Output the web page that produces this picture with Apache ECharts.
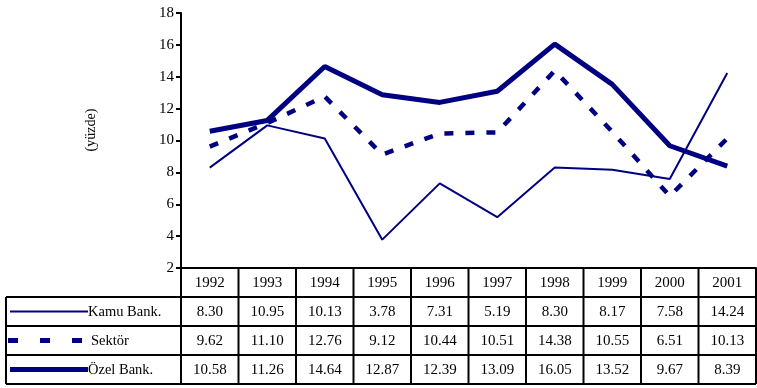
<!DOCTYPE html>
<html>
<head>
<meta charset="utf-8">
<script src="https://cdn.jsdelivr.net/npm/echarts@6/dist/echarts.min.js"></script>
<style>
  html, body { margin: 0; padding: 0; background: #fff; }
  #chart { width: 757px; height: 388px; }
</style>
</head>
<body>
<div id="chart"></div>
<script>
// Years shown along the category axis and in the table header
const years = ['1992', '1993', '1994', '1995', '1996', '1997', '1998', '1999', '2000', '2001'];

// Series values (yüzde)
const kamuBank = [8.30, 10.95, 10.13, 3.78, 7.31, 5.19, 8.30, 8.17, 7.58, 14.24];
const sektor   = [9.62, 11.10, 12.76, 9.12, 10.44, 10.51, 14.38, 10.55, 6.51, 10.13];
const ozelBank = [10.58, 11.26, 14.64, 12.87, 12.39, 13.09, 16.05, 13.52, 9.67, 8.39];

const seriesNames = ['Kamu Bank.', 'Sektör', 'Özel Bank.'];
const seriesData = [kamuBank, sektor, ozelBank];

// Value-axis tick labels
const yTicks = [2, 4, 6, 8, 10, 12, 14, 16, 18];

const NAVY = '#000080';
const FONT = '"Liberation Serif", "Times New Roman", serif';

const chart = echarts.init(document.getElementById('chart'), null, { renderer: 'canvas' });

chart.setOption({
  animation: false,
  backgroundColor: '#ffffff',
  grid: { left: 181, right: 1, top: 13, bottom: 120 },
  xAxis: {
    type: 'category',
    data: years,
    boundaryGap: true,
    axisLine: { show: true, lineStyle: { color: '#000', width: 2 } },
    axisTick: { show: false },
    axisLabel: { show: false },
    splitLine: { show: false }
  },
  yAxis: {
    type: 'value',
    min: yTicks[0],
    max: yTicks[yTicks.length - 1],
    interval: 2,
    axisLine: { show: true, lineStyle: { color: '#000', width: 2 } },
    axisTick: { show: true, inside: false, length: 5, lineStyle: { color: '#000', width: 2 } },
    axisLabel: { fontFamily: FONT, fontSize: 15, color: '#000', margin: 7 },
    splitLine: { show: false }
  },
  series: [
    {
      name: seriesNames[0], type: 'line', data: kamuBank, symbol: 'none',
      lineStyle: { color: NAVY, width: 2 }, z: 3
    },
    {
      name: seriesNames[1], type: 'line', data: sektor, symbol: 'none',
      lineStyle: { color: NAVY, width: 4.5, type: [9, 12] }, z: 2
    },
    {
      name: seriesNames[2], type: 'line', data: ozelBank, symbol: 'none',
      lineStyle: { color: NAVY, width: 5 }, z: 4
    }
  ]
});

// Data table under the plot, aligned to the category bands
function buildTable() {
  const elements = [];
  const n = years.length;
  const c0 = chart.convertToPixel({ xAxisIndex: 0 }, 0);
  const c1 = chart.convertToPixel({ xAxisIndex: 0 }, 1);
  const band = c1 - c0;
  const leftEdge = c0 - band / 2;
  const rightEdge = leftEdge + band * n;
  const top = chart.convertToPixel({ yAxisIndex: 0 }, yTicks[0]);
  const rowH = 29;
  const tableLeft = 6;
  const rowsY = [top, top + rowH, top + 2 * rowH, top + 3 * rowH, top + 4 * rowH];
  const stroke = { stroke: '#000', lineWidth: 2 };

  // value-axis title
  elements.push({
    type: 'text', x: 91, y: 130, rotation: Math.PI / 2,
    style: { text: '(yüzde)', font: '14px ' + FONT, fill: '#000', align: 'center', verticalAlign: 'middle' }, z: 11
  });

  // horizontal rules
  for (let r = 1; r < rowsY.length; r++) {
    elements.push({ type: 'line', shape: { x1: tableLeft, y1: rowsY[r], x2: rightEdge, y2: rowsY[r] }, style: stroke, z: 10 });
  }
  // outer left border of the series rows
  elements.push({ type: 'line', shape: { x1: tableLeft, y1: rowsY[1], x2: tableLeft, y2: rowsY[4] }, style: stroke, z: 10 });
  // column separators
  for (let k = 0; k <= n; k++) {
    const x = leftEdge + band * k;
    elements.push({ type: 'line', shape: { x1: x, y1: rowsY[0], x2: x, y2: rowsY[4] }, style: stroke, z: 10 });
  }
  // header years and cell values
  for (let i = 0; i < n; i++) {
    const cx = chart.convertToPixel({ xAxisIndex: 0 }, i);
    elements.push({
      type: 'text', x: cx, y: (rowsY[0] + rowsY[1]) / 2 + 1,
      style: { text: years[i], font: '15px ' + FONT, fill: '#000', align: 'center', verticalAlign: 'middle' }, z: 11
    });
    for (let s = 0; s < seriesData.length; s++) {
      elements.push({
        type: 'text', x: cx, y: (rowsY[s + 1] + rowsY[s + 2]) / 2 + 1,
        style: { text: seriesData[s][i].toFixed(2), font: '15px ' + FONT, fill: '#000', align: 'center', verticalAlign: 'middle' }, z: 11
      });
    }
  }
  // row captions with line samples
  const legendStyles = [
    { lineWidth: 2, lineDash: null, x1: 10, x2: 88 },
    { lineWidth: 5, lineDash: [10, 22], x1: 8, x2: 84 },
    { lineWidth: 5, lineDash: null, x1: 10, x2: 88 }
  ];
  const captionX = [88, 91, 88];
  for (let s = 0; s < seriesNames.length; s++) {
    const cy = (rowsY[s + 1] + rowsY[s + 2]) / 2;
    const ls = legendStyles[s];
    elements.push({
      type: 'line', shape: { x1: ls.x1, y1: cy, x2: ls.x2, y2: cy },
      style: { stroke: NAVY, lineWidth: ls.lineWidth, lineDash: ls.lineDash }, z: 11
    });
    elements.push({
      type: 'text', x: captionX[s], y: cy + 1,
      style: { text: seriesNames[s], font: '14.5px ' + FONT, fill: '#000', align: 'left', verticalAlign: 'middle' }, z: 11
    });
  }
  chart.setOption({ graphic: { elements: elements } });
}
buildTable();
</script>
</body>
</html>
